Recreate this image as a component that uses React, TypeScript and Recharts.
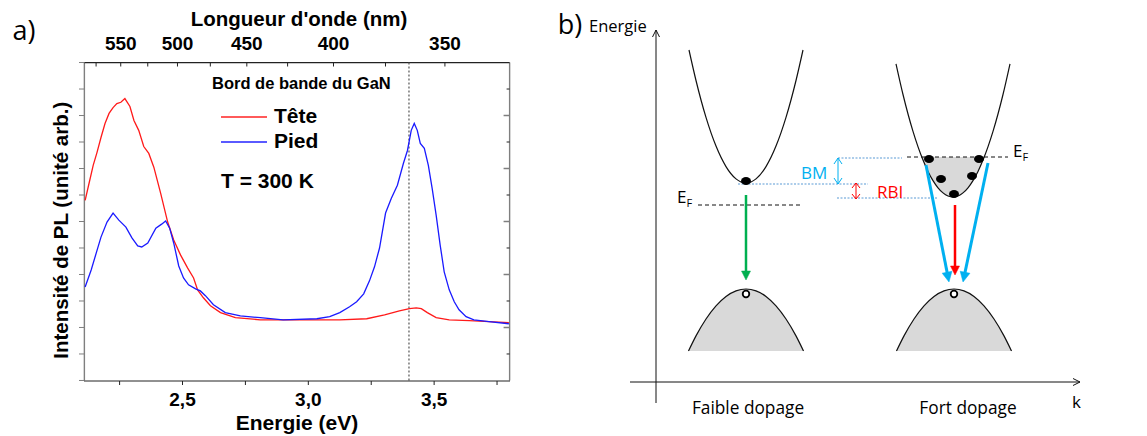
import React from 'react';
import {
  LineChart,
  ComposedChart,
  Line,
  Area,
  Scatter,
  XAxis,
  YAxis,
  ReferenceLine,
} from 'recharts';

// ---------------- (a) PL spectra ----------------
// frame limits of the spectrum plot
const energyFrame: [number, number] = [2.11, 3.8];
const intensityFrame: [number, number] = [0, 12];
// axis domains keep a hair of room around the frame so its edges stay inside the plot
const energyDomain: [number, number] = [2.1085, 3.8015];
const intensityDomain: [number, number] = [-0.02, 12.02];
const energyTicks = [2.25, 2.5, 2.75, 3.0, 3.25, 3.5, 3.75];
const wavelengthTicks = [575, 550, 525, 500, 475, 450, 425, 400, 375, 350];
const wavelengthLabels = [550, 500, 450, 400, 350];
const intensityTicks = [0, 1, 2, 3, 4, 5, 6, 7, 8, 9, 10, 11, 12];
const intensityMajor = [2, 4, 6, 8, 10];
const intensityMinor = [1, 3, 5, 7, 9, 11];
const gapEnergy = 3.4;

// inward tick lengths, in axis units
const topTickLen = 0.15;
const rightMajorLen = 0.024;
const rightMinorLen = 0.012;

// [energy (eV), intensity (arb.)]
const teteSpectrum: [number, number][] = [
  [2.113, 6.8], [2.13, 7.5], [2.145, 8.12], [2.16, 8.6], [2.176, 9.17], [2.192, 9.7],
  [2.208, 10.08], [2.224, 10.3], [2.239, 10.45], [2.255, 10.5], [2.271, 10.64],
  [2.291, 10.34], [2.307, 9.81], [2.326, 9.44], [2.346, 8.83], [2.366, 8.57],
  [2.386, 8.05], [2.413, 7.07], [2.441, 5.98], [2.465, 5.3], [2.492, 4.74],
  [2.52, 4.25], [2.544, 3.87], [2.56, 3.42], [2.583, 3.12], [2.611, 2.82],
  [2.651, 2.56], [2.71, 2.37], [2.809, 2.29], [2.967, 2.29], [3.125, 2.29],
  [3.232, 2.33], [3.303, 2.48], [3.362, 2.63], [3.402, 2.71], [3.429, 2.74],
  [3.449, 2.71], [3.473, 2.56], [3.508, 2.37], [3.56, 2.29], [3.639, 2.26],
  [3.718, 2.22], [3.797, 2.18],
];

const piedSpectrum: [number, number][] = [
  [2.113, 3.53], [2.137, 4.17], [2.176, 5.41], [2.2, 5.98], [2.224, 6.32],
  [2.247, 6.05], [2.275, 5.79], [2.299, 5.38], [2.322, 5.08], [2.338, 5.04],
  [2.362, 5.19], [2.394, 5.75], [2.417, 5.9], [2.433, 6.02], [2.449, 5.75],
  [2.465, 5.19], [2.485, 4.32], [2.504, 3.87], [2.524, 3.61], [2.552, 3.46],
  [2.571, 3.38], [2.591, 3.2], [2.623, 2.86], [2.67, 2.56], [2.73, 2.44],
  [2.809, 2.37], [2.9, 2.29], [3.034, 2.33], [3.085, 2.41], [3.125, 2.56],
  [3.164, 2.78], [3.192, 2.97], [3.22, 3.27], [3.243, 3.76], [3.263, 4.29],
  [3.283, 5.0], [3.307, 6.32], [3.33, 6.88], [3.354, 7.37], [3.378, 8.2],
  [3.394, 8.68], [3.409, 9.44], [3.421, 9.7], [3.433, 9.44], [3.445, 8.95],
  [3.461, 8.76], [3.477, 8.12], [3.492, 7.26], [3.508, 6.24], [3.524, 5.11],
  [3.54, 4.1], [3.56, 3.42], [3.58, 2.97], [3.599, 2.67], [3.627, 2.41],
  [3.658, 2.29], [3.718, 2.22], [3.797, 2.14],
];

const seriesA = [
  { name: 'Tête', pairs: teteSpectrum, color: '#ff1a1a', legendColor: '#ff5a5a' },
  { name: 'Pied', pairs: piedSpectrum, color: '#1a1aff', legendColor: '#5a5aff' },
];

// ---------------- (b) band diagram ----------------
// [k, E] in arbitrary units
const cbFaible: [number, number][] = [
  [3.3, 33.2], [4, 30.15], [5, 26.46], [6, 23.59], [7, 21.54], [8, 20.31], [9, 19.9],
  [10, 20.31], [11, 21.54], [12, 23.59], [13, 26.46], [14, 30.15], [14.7, 33.2],
];
const cbFort: [number, number][] = [
  [24.0, 31.82], [24.7, 28.75], [25.7, 25.06], [26.7, 22.19], [27.2, 21.06], [27.7, 20.14],
  [28.2, 19.42], [28.7, 18.91], [29.2, 18.6], [29.7, 18.5], [30.2, 18.6], [30.7, 18.91],
  [31.2, 19.42], [31.7, 20.14], [32.2, 21.06], [32.7, 22.19], [33.7, 25.06], [34.7, 28.75],
  [35.4, 31.82],
];
const cbFortFilled: [number, number][] = [
  [26.58, 22.5], [26.7, 22.19], [27.2, 21.06], [27.7, 20.14], [28.2, 19.42], [28.7, 18.91],
  [29.2, 18.6], [29.7, 18.5], [30.2, 18.6], [30.7, 18.91], [31.2, 19.42], [31.7, 20.14],
  [32.2, 21.06], [32.7, 22.19], [32.82, 22.5],
];
const vbFaible: [number, number][] = [
  [3.25, 3.1], [4, 4.61], [5, 6.3], [6, 7.61], [7, 8.55], [8, 9.11], [9, 9.3],
  [10, 9.11], [11, 8.55], [12, 7.61], [13, 6.3], [14, 4.61], [14.75, 3.1],
];
const vbFort: [number, number][] = [
  [24.05, 3.1], [24.8, 4.61], [25.8, 6.3], [26.8, 7.61], [27.8, 8.55], [28.8, 9.11],
  [29.8, 9.3], [30.8, 9.11], [31.8, 8.55], [32.8, 7.61], [33.8, 6.3], [34.8, 4.61],
  [35.55, 3.1],
];
const vbBase = 3.1;
const electrons: [number, number][] = [
  [9, 20.1], [27.3, 22.3], [32.3, 22.3], [28.5, 20.3], [31.6, 20.6], [29.8, 18.8],
];
const holes: [number, number][] = [[9, 8.8], [29.8, 8.8]];
const efFaible = { E: 17.7, from: 4.2, to: 14.4 };
const efFort = { E: 22.5, from: 25.1, to: 35.2 };
const levelBM = { E: 22.4, from: 18.2, to: 24.6 };
const levelCbMin = { E: 19.8, from: 8.2, to: 21.2 };
const levelRBI = { E: 18.4, from: 18.1, to: 28.1 };
const bmArrow = { k: 18.2, top: 22.4, bottom: 19.8 };
const rbiArrow = { k: 20.0, top: 19.9, bottom: 18.3 };
const greenArrow = { k: 9, from: 18.7, to: 10.2 };
const redArrow = { k: 29.9, from: 17.7, to: 10.7 };
const blueArrows: [number, number, number, number][] = [
  [27.0, 21.7, 29.3, 10.0],
  [33.2, 21.9, 30.7, 10.0],
];
const energyAxis = { k: 0, from: -2.1, to: 35.2 };
const kAxis = { E: 0, from: -2.6, to: 42.4 };

const GREEN = '#00b050';
const RED = '#ff0000';
const CYAN = '#00b0f0';
const DOTTED_BLUE = '#5b9bd5';
const FRAME_DARK = '#222';
const FRAME_GRAY = '#7f7f7f';

const toKE = (pairs: [number, number][]) => pairs.map(([k, E]) => ({ k, E }));

const FONT_A = '"Liberation Sans", Arial, sans-serif';
const FONT_B = '"Open Sans", "Noto Sans", sans-serif';

type Head = 'filled' | 'open' | 'both';

function makeArrow(color: string, width: number, head: Head, size: number, halfW: number) {
  return (p: any) => {
    const x1 = Number(p.x1), y1 = Number(p.y1), x2 = Number(p.x2), y2 = Number(p.y2);
    const dx = x2 - x1, dy = y2 - y1;
    const len = Math.hypot(dx, dy) || 1;
    const ux = dx / len, uy = dy / len;
    const px = -uy, py = ux;
    const vee = (tx: number, ty: number, dx0: number, dy0: number) =>
      `M${tx - dx0 * size + px * halfW},${ty - dy0 * size + py * halfW} L${tx},${ty} L${tx - dx0 * size - px * halfW},${ty - dy0 * size - py * halfW}`;
    if (head === 'filled') {
      const bx = x2 - ux * size * 0.8, by = y2 - uy * size * 0.8;
      const pts = [
        `${x2},${y2}`,
        `${x2 - ux * size + px * halfW},${y2 - uy * size + py * halfW}`,
        `${x2 - ux * size - px * halfW},${y2 - uy * size - py * halfW}`,
      ].join(' ');
      return (
        <g>
          <line x1={x1} y1={y1} x2={bx} y2={by} stroke={color} strokeWidth={width} />
          <polygon points={pts} fill={color} stroke={color} strokeWidth={0.5} />
        </g>
      );
    }
    return (
      <g fill="none" stroke={color} strokeWidth={width}>
        <line x1={x1} y1={y1} x2={x2} y2={y2} />
        <path d={vee(x2, y2, ux, uy)} />
        {head === 'both' && <path d={vee(x1, y1, -ux, -uy)} />}
      </g>
    );
  };
}

const Txt: React.FC<{
  x: number; y: number; size: number; bold?: boolean; color?: string; font?: string;
  anchor?: 'start' | 'middle'; rotate?: boolean; children: React.ReactNode;
}> = ({ x, y, size, bold, color = '#000', font = FONT_A, anchor = 'middle', rotate, children }) => {
  const w = 400;
  const left = anchor === 'middle' ? x - w / 2 : x;
  return (
    <div
      style={{
        position: 'absolute',
        left,
        top: y - size * 0.55,
        width: w,
        textAlign: anchor === 'middle' ? 'center' : 'left',
        fontSize: size,
        lineHeight: 1.1,
        fontFamily: font,
        fontWeight: bold ? 700 : 400,
        color,
        whiteSpace: 'nowrap',
        pointerEvents: 'none',
        transform: rotate ? 'rotate(-90deg)' : undefined,
        transformOrigin: rotate ? `${w / 2}px ${size * 0.55}px` : undefined,
      }}
    >
      {children}
    </div>
  );
};

const EF: React.FC<{ x: number; y: number }> = ({ x, y }) => (
  <Txt x={x} y={y} size={17} font={FONT_B} anchor="start">
    E<span style={{ fontSize: 11, position: 'relative', top: 4 }}>F</span>
  </Txt>
);

const blank = () => '';
const [eMin, eMax] = energyFrame;
const [iMin, iMax] = intensityFrame;

type Pt = { E: number; I: number | null };
// separate strokes joined into one path, broken by empty points
const strokes = (segs: [number, number, number, number][]): Pt[] =>
  segs.flatMap(([e1, i1, e2, i2]) => [
    { E: e1, I: i1 },
    { E: e2, I: i2 },
    { E: e2, I: null },
  ]);

const frameSides = strokes([
  [eMin, iMin, eMin, iMax],
  [eMax, iMin, eMax, iMax],
]);
const frameTop = strokes([[eMin, iMax, eMax, iMax]]);
const topTickMarks = strokes(wavelengthTicks.map((l) => [1240 / l, iMax, 1240 / l, iMax - topTickLen]));
const rightMajorMarks = strokes(intensityMajor.map((v) => [eMax, v, eMax - rightMajorLen, v]));
const rightMinorMarks = strokes(intensityMinor.map((v) => [eMax, v, eMax - rightMinorLen, v]));

const frameParts = [
  { id: 'sides', data: frameSides, color: FRAME_GRAY, width: 1.4 },
  { id: 'top', data: frameTop, color: FRAME_DARK, width: 1.2 },
  { id: 'topTicks', data: topTickMarks, color: FRAME_DARK, width: 1 },
  { id: 'rightMajor', data: rightMajorMarks, color: FRAME_GRAY, width: 1.5 },
  { id: 'rightMinor', data: rightMinorMarks, color: FRAME_DARK, width: 1 },
];

const PanelA = () => (
  <div style={{ position: 'absolute', left: 0, top: 0, width: 560, height: 436 }}>
    <LineChart width={560} height={436} margin={{ top: 0, right: 50, bottom: 0, left: 78 }}>
      <XAxis
        xAxisId="bottom"
        type="number"
        dataKey="E"
        domain={energyDomain}
        ticks={energyTicks}
        interval={0}
        height={55}
        tickSize={4}
        tickMargin={8}
        stroke={FRAME_DARK}
        tick={{ fill: '#000', fontSize: 19, fontWeight: 700, fontFamily: FONT_A }}
        tickFormatter={(v: number) => (Math.abs(v * 2 - Math.round(v * 2)) < 1e-6 ? v.toFixed(1).replace('.', ',') : '')}
      />
      {/* wavelength scale: same energy axis, labelled in nm */}
      <XAxis
        xAxisId="top"
        orientation="top"
        type="number"
        dataKey="E"
        domain={energyDomain}
        allowDataOverflow
        ticks={wavelengthTicks.map((l) => 1240 / l)}
        interval={0}
        height={62}
        tickLine={false}
        axisLine={false}
        tickSize={0}
        tickMargin={12}
        tick={{ fill: '#000', fontSize: 19, fontWeight: 700, fontFamily: FONT_A }}
        tickFormatter={(v: number) => {
          const l = Math.round(1240 / v);
          return wavelengthLabels.includes(l) ? String(l) : '';
        }}
      />
      <YAxis yAxisId="left" type="number" domain={intensityDomain} ticks={intensityTicks}
        interval={0} width={6} tickSize={5} stroke={FRAME_GRAY} axisLine={false} tickFormatter={blank} />

      {/* frame and inward ticks */}
      {frameParts.map((f) => (
        <Line
          key={f.id}
          xAxisId="bottom"
          yAxisId="left"
          data={f.data}
          dataKey="I"
          type="linear"
          stroke={f.color}
          strokeWidth={f.width}
          dot={false}
          activeDot={false}
          connectNulls={false}
          legendType="none"
          isAnimationActive={false}
        />
      ))}

      <ReferenceLine xAxisId="bottom" yAxisId="left" ifOverflow="visible"
        segment={[{ x: gapEnergy, y: iMin }, { x: gapEnergy, y: iMax }]} stroke="#555" strokeWidth={1.2}
        strokeDasharray="2 2" />
      {seriesA.map((s) => (
        <Line
          key={s.name}
          xAxisId="bottom"
          yAxisId="left"
          data={s.pairs.map(([E, I]) => ({ E, I }))}
          dataKey="I"
          name={s.name}
          type="linear"
          stroke={s.color}
          strokeWidth={1.3}
          dot={false}
          isAnimationActive={false}
        />
      ))}
    </LineChart>

    <Txt x={24} y={30} size={27} font={FONT_B}>a)</Txt>
    <Txt x={299} y={19} size={20.5} bold>Longueur d'onde (nm)</Txt>
    <Txt x={297} y={423} size={21} bold>Energie (eV)</Txt>
    <Txt x={61} y={230} size={20.5} bold rotate>Intensité de PL (unité arb.)</Txt>

    <Txt x={212} y={83} size={16.5} bold anchor="start">Bord de bande du GaN</Txt>
    {seriesA.map((s, i) => (
      <React.Fragment key={s.name}>
        <div style={{ position: 'absolute', left: 221, top: 116 + i * 25, width: 46, height: 1.5, background: s.legendColor }} />
        <Txt x={274} y={116 + i * 25} size={21} bold anchor="start">{s.name}</Txt>
      </React.Fragment>
    ))}
    <Txt x={221} y={181} size={21} bold anchor="start">T = 300 K</Txt>
  </div>
);

const electronShape = (p: any) => (
  <ellipse cx={p.cx} cy={p.cy} rx={5} ry={4} fill="#000" />
);
const holeShape = (p: any) => (
  <circle cx={p.cx} cy={p.cy} r={3.3} fill="#fff" stroke="#000" strokeWidth={1.8} />
);

const PanelB = () => (
  <div style={{ position: 'absolute', left: 560, top: 0, width: 587, height: 436 }}>
    <ComposedChart width={587} height={436} margin={{ top: 22, right: 51, bottom: 14, left: 66 }}>
      <XAxis type="number" dataKey="k" domain={[-3, 44]} allowDataOverflow hide />
      <YAxis type="number" dataKey="E" domain={[-4, 36]} allowDataOverflow hide />

      {/* valence bands */}
      <Area data={toKE(vbFaible)} dataKey="E" type="monotone" baseValue={vbBase} stroke="#111"
        strokeWidth={1.2} fill="#d9d9d9" fillOpacity={1} isAnimationActive={false} />
      <Area data={toKE(vbFort)} dataKey="E" type="monotone" baseValue={vbBase} stroke="#111"
        strokeWidth={1.2} fill="#d9d9d9" fillOpacity={1} isAnimationActive={false} />
      {/* occupied states below the Fermi level */}
      <Area data={toKE(cbFortFilled)} dataKey="E" type="monotone" baseValue={efFort.E} stroke="none"
        fill="#d9d9d9" fillOpacity={1} isAnimationActive={false} />
      {/* conduction bands */}
      <Line data={toKE(cbFaible)} dataKey="E" type="monotone" stroke="#111" strokeWidth={1.2}
        dot={false} isAnimationActive={false} />
      <Line data={toKE(cbFort)} dataKey="E" type="monotone" stroke="#111" strokeWidth={1.2}
        dot={false} isAnimationActive={false} />

      {/* axes */}
      <ReferenceLine segment={[{ x: energyAxis.k, y: energyAxis.from }, { x: energyAxis.k, y: energyAxis.to }]}
        shape={makeArrow('#111', 1, 'open', 7, 3.5)} ifOverflow="visible" />
      <ReferenceLine segment={[{ x: kAxis.from, y: kAxis.E }, { x: kAxis.to, y: kAxis.E }]}
        shape={makeArrow('#111', 1, 'open', 7, 3.5)} ifOverflow="visible" />

      {/* Fermi levels */}
      <ReferenceLine segment={[{ x: efFaible.from, y: efFaible.E }, { x: efFaible.to, y: efFaible.E }]}
        stroke="#111" strokeWidth={1} strokeDasharray="4 3" />
      <ReferenceLine segment={[{ x: efFort.from, y: efFort.E }, { x: efFort.to, y: efFort.E }]}
        stroke="#111" strokeWidth={1} strokeDasharray="4 3" />

      {/* guide levels */}
      {[levelBM, levelCbMin, levelRBI].map((l, i) => (
        <ReferenceLine key={i} segment={[{ x: l.from, y: l.E }, { x: l.to, y: l.E }]}
          stroke={DOTTED_BLUE} strokeWidth={1} strokeDasharray="2 1.5" />
      ))}

      {/* BM and RBI shifts */}
      <ReferenceLine segment={[{ x: bmArrow.k, y: bmArrow.bottom }, { x: bmArrow.k, y: bmArrow.top }]}
        shape={makeArrow(CYAN, 1, 'both', 6, 4)} />
      <ReferenceLine segment={[{ x: rbiArrow.k, y: rbiArrow.bottom }, { x: rbiArrow.k, y: rbiArrow.top }]}
        shape={makeArrow(RED, 1, 'both', 5, 4)} />

      {/* radiative transitions */}
      <ReferenceLine segment={[{ x: greenArrow.k, y: greenArrow.from }, { x: greenArrow.k, y: greenArrow.to }]}
        shape={makeArrow(GREEN, 2.5, 'filled', 9, 4.5)} />
      <ReferenceLine segment={[{ x: redArrow.k, y: redArrow.from }, { x: redArrow.k, y: redArrow.to }]}
        shape={makeArrow(RED, 2.5, 'filled', 9, 4.5)} />
      {blueArrows.map(([k1, e1, k2, e2], i) => (
        <ReferenceLine key={`b${i}`} segment={[{ x: k1, y: e1 }, { x: k2, y: e2 }]}
          shape={makeArrow(CYAN, 3, 'filled', 10, 5)} />
      ))}

      <Scatter data={toKE(electrons)} shape={electronShape} isAnimationActive={false} />
      <Scatter data={toKE(holes)} shape={holeShape} isAnimationActive={false} />
    </ComposedChart>

    <Txt x={10} y={24} size={27} font={FONT_B}>b)</Txt>
    <Txt x={29} y={26} size={16.5} font={FONT_B} anchor="start">Energie</Txt>
    <Txt x={188} y={408} size={17.3} font={FONT_B}>Faible dopage</Txt>
    <Txt x={408} y={408} size={17.3} font={FONT_B}>Fort dopage</Txt>
    <Txt x={512} y={402} size={17} font={FONT_B} anchor="start">k</Txt>
    <Txt x={241} y={173} size={17} font={FONT_B} color={CYAN} anchor="start">BM</Txt>
    <Txt x={317} y={192} size={17} font={FONT_B} color={RED} anchor="start">RBI</Txt>
    <EF x={117} y={197} />
    <EF x={453} y={151} />
  </div>
);

export default function App() {
  return (
    <div style={{ position: 'absolute', left: 0, top: 0, width: 1147, height: 436, background: '#fff', overflow: 'hidden' }}>
      <PanelA />
      <PanelB />
    </div>
  );
}
